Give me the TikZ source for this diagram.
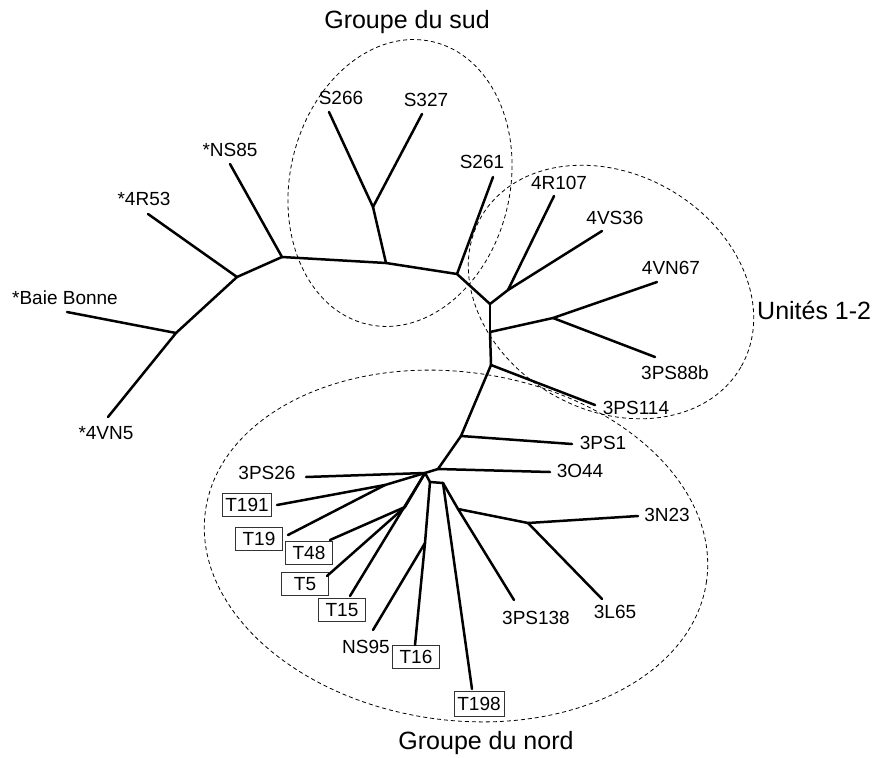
\documentclass[tikz,border=0pt]{standalone}
\usepackage{fontspec}
\setmainfont{Liberation Sans}
\begin{document}
\begin{tikzpicture}[x=1pt, y=-1pt]
  \tikzstyle{branchline} = [line width=2.5pt, line cap=round, line join=round]
  \tikzstyle{leaflabel} = [inner sep=0pt, font=\fontsize{19}{21}\selectfont]
  \tikzstyle{tagbox} = [leaflabel, draw=black!80, line width=0.9pt, minimum width=47pt, minimum height=23pt]
  \tikzstyle{groupline} = [line width=0.8pt, dash pattern=on 4pt off 3pt]
  \tikzstyle{grouptitle} = [inner sep=0pt, font=\fontsize{25}{29}\selectfont]

\useasboundingbox (0,0) rectangle (877,757);

\coordinate (bb) at (176,333);
\coordinate (r53) at (237,277);
\coordinate (ns85) at (282,257);
\coordinate (s) at (386,263);
\coordinate (s2) at (373,207);
\coordinate (s261) at (457,274);
\coordinate (e) at (490,304);
\coordinate (f) at (508,290);
\coordinate (g) at (490,332);
\coordinate (h) at (553,318);
\coordinate (i) at (491,365);
\coordinate (j) at (461,436);
\coordinate (k) at (438,469);
\coordinate (hub) at (425,473);
\coordinate (q) at (385,485);
\coordinate (r) at (405,507);
\coordinate (m0) at (430,482);
\coordinate (m) at (425,543);
\coordinate (n) at (443,483);
\coordinate (o) at (458,509);
\coordinate (p) at (528,523);

\coordinate (lBB) at (67,312);
\coordinate (l4VN5) at (108,417);
\coordinate (l4R53) at (148,214);
\coordinate (lNS85) at (230,164);
\coordinate (lS266) at (329,112);
\coordinate (lS327) at (422,114);
\coordinate (lS261) at (493,177);
\coordinate (l4R107) at (554,196);
\coordinate (l4VS36) at (602,231);
\coordinate (l4VN67) at (657,282);
\coordinate (l3PS88b) at (655,357);
\coordinate (l3PS114) at (595,405);
\coordinate (l3PS1) at (572,444);
\coordinate (l3O44) at (550,472);
\coordinate (l3PS26) at (306,477);
\coordinate (lT191) at (277,505);
\coordinate (lT19) at (288,535);
\coordinate (lT48) at (330,540);
\coordinate (lT5) at (327,576);
\coordinate (lT15) at (350,596);
\coordinate (lNS95) at (373,630);
\coordinate (lT16) at (415,645);
\coordinate (lT198) at (472,689);
\coordinate (l3PS138) at (514,600);
\coordinate (l3N23) at (638,516);
\coordinate (l3L65) at (602,599);

\node[leaflabel] (tBB) at (65,298) {*Baie Bonne};
\node[leaflabel] (t4VN5) at (106,433) {*4VN5};
\node[leaflabel] (t4R53) at (144,199) {*4R53};
\node[leaflabel] (tNS85) at (230,150) {*NS85};
\node[leaflabel] (tS266) at (341,98) {S266};
\node[leaflabel] (tS327) at (426,100) {S327};
\node[leaflabel] (tS261) at (482,162) {S261};
\node[leaflabel] (t4R107) at (559,183) {4R107};
\node[leaflabel] (t4VS36) at (615,218) {4VS36};
\node[leaflabel] (t4VN67) at (671,268) {4VN67};
\node[leaflabel] (t3PS88b) at (675,373) {3PS88b};
\node[leaflabel] (t3PS114) at (636,408) {3PS114};
\node[leaflabel] (t3PS1) at (603,443) {3PS1};
\node[leaflabel] (t3O44) at (580,471) {3O44};
\node[leaflabel] (t3N23) at (667,515) {3N23};
\node[leaflabel] (t3L65) at (615,612) {3L65};
\node[leaflabel] (t3PS138) at (536,618) {3PS138};
\node[leaflabel] (t3PS26) at (267,473) {3PS26};
\node[leaflabel] (tNS95) at (366,647) {NS95};
\node[tagbox, minimum width=49pt] (tT191) at (247,505) {T191};
\node[tagbox] (tT19) at (259,539) {T19};
\node[tagbox] (tT48) at (309,553) {T48};
\node[tagbox] (tT5) at (305,584) {T5};
\node[tagbox] (tT15) at (342,610) {T15};
\node[tagbox] (tT16) at (416,657) {T16};
\node[tagbox, minimum width=50pt, minimum height=25pt] (tT198) at (479,704) {T198};

\draw[branchline] (bb) -- (l4VN5);
\draw[branchline] (bb) -- (lBB);
\draw[branchline] (bb) -- (r53);
\draw[branchline] (r53) -- (l4R53);
\draw[branchline] (r53) -- (ns85);
\draw[branchline] (ns85) -- (lNS85);
\draw[branchline] (ns85) -- (s);
\draw[branchline] (s) -- (s2);
\draw[branchline] (s2) -- (lS266);
\draw[branchline] (s2) -- (lS327);
\draw[branchline] (s) -- (s261);
\draw[branchline] (s261) -- (lS261);
\draw[branchline] (s261) -- (e);
\draw[branchline] (e) -- (f);
\draw[branchline] (f) -- (l4R107);
\draw[branchline] (f) -- (l4VS36);
\draw[branchline] (e) -- (g);
\draw[branchline] (g) -- (h);
\draw[branchline] (h) -- (l4VN67);
\draw[branchline] (h) -- (l3PS88b);
\draw[branchline] (g) -- (i);
\draw[branchline] (i) -- (l3PS114);
\draw[branchline] (i) -- (j);
\draw[branchline] (j) -- (l3PS1);
\draw[branchline] (j) -- (k);
\draw[branchline] (k) -- (l3O44);
\draw[branchline] (k) -- (hub);
\draw[branchline] (hub) -- (l3PS26);
\draw[branchline] (hub) -- (q);
\draw[branchline] (q) -- (lT191);
\draw[branchline] (q) -- (lT19);
\draw[branchline] (hub) -- (r);
\draw[branchline] (r) -- (lT48);
\draw[branchline] (r) -- (lT5);
\draw[branchline] (hub) -- (lT15);
\draw[branchline] (hub) -- (m0);
\draw[branchline] (m0) -- (m);
\draw[branchline] (m) -- (lNS95);
\draw[branchline] (m) -- (lT16);
\draw[branchline] (m0) -- (n);
\draw[branchline] (n) -- (lT198);
\draw[branchline] (n) -- (o);
\draw[branchline] (o) -- (l3PS138);
\draw[branchline] (o) -- (p);
\draw[branchline] (p) -- (l3N23);
\draw[branchline] (p) -- (l3L65);

\coordinate (csud) at (400,183);
\coordinate (cunit) at (611,292);
\coordinate (cnord) at (456,546);
\draw[groupline, rotate around={-13:(csud)}] (csud) ellipse [x radius=110, y radius=145];
\draw[groupline, rotate around={-30:(cunit)}] (cunit) ellipse [x radius=150, y radius=118];
\draw[groupline, rotate around={-8:(cnord)}] (cnord) ellipse [x radius=253, y radius=174];

\node[grouptitle] (sud) at (407,22) {Groupe du sud};
\node[grouptitle, anchor=west] (unites) at (757,310) {Unités 1-2};
\node[grouptitle] (nord) at (486,743) {Groupe du nord};
\end{tikzpicture}
\end{document}
